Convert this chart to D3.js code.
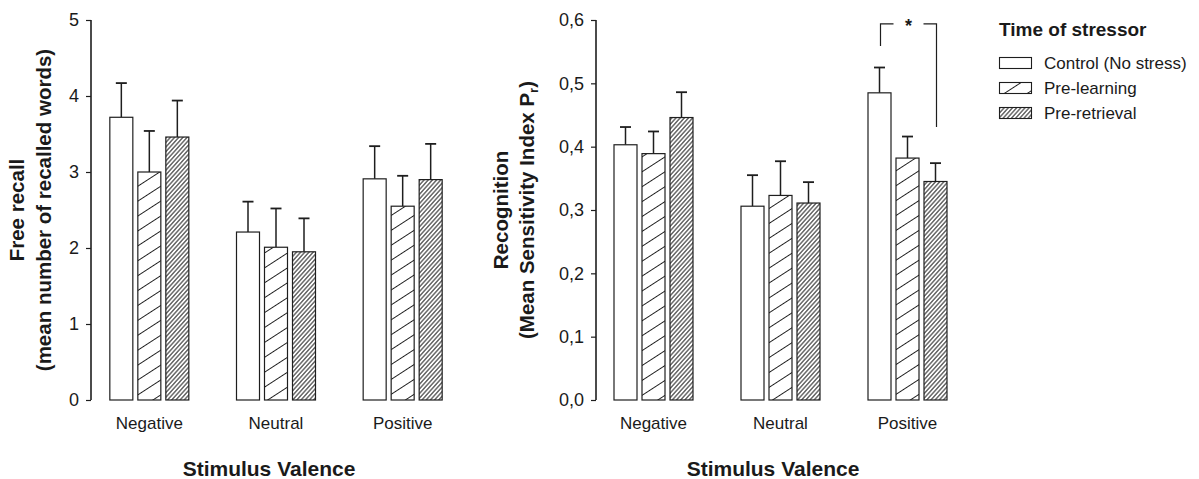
<!DOCTYPE html>
<html>
<head>
<meta charset="utf-8">
<script src="https://cdn.jsdelivr.net/npm/d3@7"></script>
<style>
  body { margin: 0; background: #fff; }
  svg text { font-family: "Liberation Sans", Arial, Helvetica, sans-serif; fill: #1a1a1a; }
</style>
</head>
<body>
<svg id="chart" width="1199" height="479"></svg>
<script>
// data
const categories = ['Negative', 'Neutral', 'Positive']
const groups = ['Control (No stress)', 'Pre-learning', 'Pre-retrieval']
const patterns = ['none', 'sparse', 'dense']

// free recall (mean number of recalled words), one row per valence
const recallMean = [[3.72, 3.0, 3.46], [2.21, 2.01, 1.95], [2.91, 2.55, 2.9]]
const recallSem = [[0.45, 0.54, 0.48], [0.4, 0.51, 0.44], [0.43, 0.4, 0.47]]
const recallTicks = [0, 1, 2, 3, 4, 5]

// recognition (mean sensitivity index Pr)
const recogMean = [[0.403, 0.389, 0.446], [0.306, 0.323, 0.311], [0.485, 0.382, 0.345]]
const recogSem = [[0.028, 0.035, 0.04], [0.049, 0.054, 0.033], [0.04, 0.034, 0.029]]
const recogTicks = [0, 0.1, 0.2, 0.3, 0.4, 0.5, 0.6]

// significance bracket over positive control vs pre-retrieval: [top, left end, right end]
const sigLevels = [0.594, 0.559, 0.431]

const svg = d3.select('#chart')
const ink = '#1e1e1e'

// hatch fills
const defs = svg.append('defs')
function hatch (id, gap, angle, width) {
  const p = defs.append('pattern')
    .attr('id', id)
    .attr('patternUnits', 'userSpaceOnUse')
    .attr('width', 20)
    .attr('height', gap)
    .attr('patternTransform', 'rotate(' + angle + ')')
  p.append('rect').attr('width', 20).attr('height', gap).attr('fill', '#fff')
  p.append('line')
    .attr('x1', 0).attr('x2', 20)
    .attr('y1', gap / 2).attr('y2', gap / 2)
    .attr('stroke', ink).attr('stroke-width', width)
}
hatch('sparse', 12.5, -33, 1)
hatch('dense', 3.1, -48, 1)

const fillFor = k => patterns[k] === 'none' ? '#fff' : 'url(#' + patterns[k] + ')'

const comma = d3.formatLocale({ decimal: ',', thousands: '.', grouping: [3], currency: ['', ''] })

function panel (opt) {
  const g = svg.append('g')
  const y = d3.scaleLinear().domain(opt.domain).range([400, 20])
  const x0 = d3.scaleBand().domain(categories).range(opt.xRange)
  const x1 = d3.scaleBand().domain(groups).range([0, 79]).paddingInner(5 / 28)
  const cx = (i, k) => x0(categories[i]) + (x0.bandwidth() - 79) / 2 + x1(groups[k])

  // y axis
  const axis = g.append('g')
    .attr('transform', 'translate(' + opt.axisX + ',0)')
    .call(d3.axisLeft(y).tickValues(opt.ticks).tickSize(5).tickPadding(7).tickFormat(opt.fmt))
  axis.select('.domain').attr('stroke', ink).attr('stroke-width', 1.6).attr('d', 'M0,400V20')
  axis.selectAll('.tick line').attr('stroke', ink).attr('stroke-width', 1.2)
  axis.selectAll('.tick text')
    .attr('font-size', 18).attr('fill', ink)
    .style('font-family', '"Liberation Sans", Arial, sans-serif')

  // bars
  opt.mean.forEach((row, i) => {
    row.forEach((v, k) => {
      const left = cx(i, k)
      const w = x1.bandwidth()
      const top = y(v + opt.sem[i][k])
      g.append('line')
        .attr('x1', left + w / 2).attr('x2', left + w / 2)
        .attr('y1', y(v)).attr('y2', top)
        .attr('stroke', ink).attr('stroke-width', 1.5)
      g.append('line')
        .attr('x1', left + w / 2 - 5.5).attr('x2', left + w / 2 + 5.5)
        .attr('y1', top).attr('y2', top)
        .attr('stroke', ink).attr('stroke-width', 1.8)
      g.append('rect')
        .attr('x', left).attr('y', y(v))
        .attr('width', w).attr('height', y(0) - y(v))
        .attr('fill', fillFor(k))
        .attr('stroke', ink).attr('stroke-width', 1.2)
    })
  })

  // category labels
  g.selectAll('text.cat')
    .data(categories)
    .enter().append('text')
    .attr('class', 'cat')
    .attr('x', d => x0(d) + x0.bandwidth() / 2)
    .attr('y', 429)
    .attr('text-anchor', 'middle')
    .attr('font-size', 17)
    .text(d => d)

  g.append('text')
    .attr('x', opt.titleX)
    .attr('y', 476)
    .attr('text-anchor', 'middle')
    .attr('font-size', 21)
    .attr('font-weight', 'bold')
    .text('Stimulus Valence')

  // y title, two lines
  opt.yTitle.forEach((line, j) => {
    const t = g.append('text')
      .attr('transform', 'translate(' + opt.yTitleX[j] + ',210) rotate(-90)')
      .attr('text-anchor', 'middle')
      .attr('dominant-baseline', 'central')
      .attr('font-size', 20.5)
      .attr('font-weight', 'bold')
    if (Array.isArray(line)) {
      t.append('tspan').text(line[0])
      t.append('tspan').attr('baseline-shift', 'sub').attr('font-size', 13).text(line[1])
      t.append('tspan').text(line[2])
    } else {
      t.text(line)
    }
  })

  return { y, cx, bw: x1.bandwidth() }
}

panel({
  domain: [0, 5],
  ticks: recallTicks,
  fmt: d3.format('d'),
  xRange: [86, 466],
  axisX: 91,
  mean: recallMean,
  sem: recallSem,
  titleX: 269,
  yTitle: ['Free recall', '(mean number of recalled words)'],
  yTitleX: [16, 43]
})

const right = panel({
  domain: [0, 0.6],
  ticks: recogTicks,
  fmt: comma.format('.1f'),
  xRange: [590, 971],
  axisX: 596,
  mean: recogMean,
  sem: recogSem,
  titleX: 773,
  yTitle: ['Recognition', ['(Mean Sensitivity Index P', 'r', ')']],
  yTitleX: [500, 526]
})

// significance bracket
const bx1 = right.cx(2, 0) + right.bw / 2 + 1
const bx2 = right.cx(2, 2) + right.bw / 2 + 1
const yTop = right.y(sigLevels[0])
const mid = (bx1 + bx2) / 2
const br = svg.append('g').attr('fill', 'none').attr('stroke', ink).attr('stroke-width', 1.2)
br.append('path').attr('d', d3.line()([[bx1, right.y(sigLevels[1])], [bx1, yTop], [mid - 15, yTop]]))
br.append('path').attr('d', d3.line()([[mid + 15, yTop], [bx2, yTop], [bx2, right.y(sigLevels[2])]]))
svg.append('text')
  .attr('x', mid).attr('y', yTop + 8)
  .attr('text-anchor', 'middle')
  .attr('font-size', 18)
  .attr('font-weight', 'bold')
  .text('*')

// legend
const legend = svg.append('g').attr('transform', 'translate(999,0)')
legend.append('text')
  .attr('x', 0).attr('y', 36)
  .attr('font-size', 19)
  .attr('font-weight', 'bold')
  .text('Time of stressor')
groups.forEach((name, k) => {
  const cy = 63 + k * 25
  legend.append('rect')
    .attr('x', 0.5).attr('y', cy - 5.5)
    .attr('width', 32).attr('height', 11)
    .attr('fill', fillFor(k))
    .attr('stroke', ink).attr('stroke-width', 1.1)
  legend.append('text')
    .attr('x', 45).attr('y', cy + 6)
    .attr('font-size', 17)
    .text(name)
})
</script>
</body>
</html>
